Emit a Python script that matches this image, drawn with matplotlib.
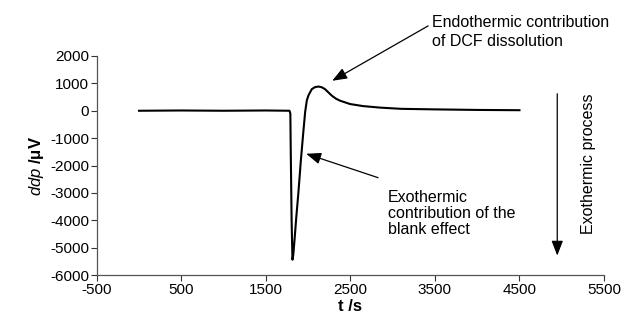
import matplotlib
matplotlib.use("Agg")
import matplotlib.pyplot as plt
import numpy as np

# data
t_s = [0, 500, 1000, 1500, 1780, 1790, 1795, 1805, 1815, 1825, 1840, 1860, 1885,
       1914, 1940, 1965, 1985, 2004, 2044, 2080, 2122, 2160, 2200, 2240, 2281,
       2330, 2380, 2497, 2650, 2850, 3100, 3500, 4000, 4500]
ddp = [0, 10, 0, 10, 0, -100, -1500, -4000, -5440, -5250, -4700, -3900, -3000,
       -1830, -900, -50, 380, 560, 790, 860, 885, 860, 790, 670, 550,
       440, 365, 245, 170, 115, 70, 50, 30, 20]
x_ticks = [-500, 500, 1500, 2500, 3500, 4500, 5500]
y_ticks = [-6000, -5000, -4000, -3000, -2000, -1000, 0, 1000, 2000]

plt.rcParams['font.family'] = ['Liberation Sans', 'DejaVu Sans']
plt.rcParams['mathtext.fontset'] = 'custom'
plt.rcParams['mathtext.it'] = 'Liberation Sans:italic'
plt.rcParams['mathtext.rm'] = 'Liberation Sans'
plt.rcParams['axes.unicode_minus'] = False

fig = plt.figure(figsize=(6.41, 3.25), dpi=100)
ax = fig.add_axes([0.1509, 0.1538, 0.7914, 0.6739])
ax.plot(t_s, ddp, color='black', lw=1.5, solid_joinstyle='round')

ax.set_xlim(-500, 5500)
ax.set_ylim(-6000, 2000)
ax.set_xticks(x_ticks)
ax.set_yticks(y_ticks)
ax.tick_params(direction='out', length=4, width=0.8, labelsize=11, colors='#333333',
               labelcolor='black', pad=1.5)
for s in ['top', 'right']:
    ax.spines[s].set_visible(False)
for s in ['left', 'bottom']:
    ax.spines[s].set_color('#555555')
    ax.spines[s].set_linewidth(0.9)

ax.set_xlabel('t /s', fontsize=12, fontweight='bold', labelpad=2)
ax.set_ylabel(r'$\mathit{ddp}$ /μV', fontsize=12, fontweight='bold', labelpad=3)

arrowprops = dict(arrowstyle='-|>,head_length=0.9,head_width=0.35', color='black', lw=0.9,
                  shrinkA=0, shrinkB=0)
ax.annotate('', xy=(2285, 1095), xytext=(3420, 3100), arrowprops=arrowprops,
            annotation_clip=False)
ax.text(3460, 2865, 'Endothermic contribution\nof DCF dissolution', ha='left', va='center',
        fontsize=11.5, linespacing=1.35, clip_on=False)

ax.annotate('', xy=(1977, -1570), xytext=(2828, -2445), arrowprops=arrowprops,
            annotation_clip=False)
ax.text(2948, -3760, 'Exothermic\ncontribution of the\nblank effect', ha='left', va='center',
        fontsize=11.5, linespacing=1.1, clip_on=False)

ax.annotate('', xy=(4947, -5290), xytext=(4947, 620), arrowprops=arrowprops,
            annotation_clip=False)
ax.text(5314, -1934, 'Exothermic process', rotation=90, ha='center', va='center',
        fontsize=11.5, clip_on=False)

fig.savefig('out.png', dpi=100)
